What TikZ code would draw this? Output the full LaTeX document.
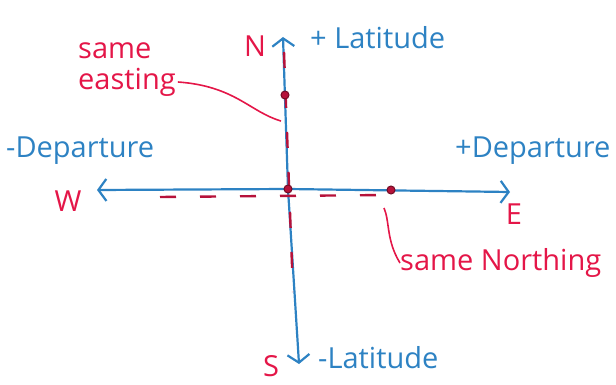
\documentclass[tikz,border=0pt]{standalone}
\usepackage{fontspec}
\setmainfont{Open Sans}
\usetikzlibrary{arrows.meta,positioning}
\definecolor{penblue}{RGB}{45,130,195}
\definecolor{penred}{RGB}{228,22,72}

\begin{document}
\begin{tikzpicture}[x=1pt,y=-1pt,
  axis/.style={draw=penblue,line width=2.2pt,
    -{Straight Barb[length=8pt,width=22pt,line width=2.2pt]}},
  bluetxt/.style={text=penblue,font=\fontsize{29}{30}\selectfont,inner sep=0pt},
  redtxt/.style={text=penred,font=\fontsize{29}{31}\selectfont,inner sep=0pt,align=left},
  trace/.style={draw=penred!80!black,line width=2.4pt,dash pattern=on 16pt off 24pt},
  leader/.style={draw=penred,line width=1.6pt},
  dot/.style={circle,fill=penred!80!black,draw=penred!50!black,line width=1pt,
    inner sep=0pt,minimum size=8pt}
]
\useasboundingbox (0,0) rectangle (616,385);

% axis ends
\coordinate (north) at (283,37);
\coordinate (south) at (299,364);
\coordinate (west) at (97,190);
\coordinate (east) at (510,192);
\coordinate (centre) at (288,189);

\draw[axis] (centre) -- (north);
\draw[axis] (centre) -- (south);
\draw[axis] (centre) -- (west);
\draw[axis] (centre) -- (east);

% points with same easting / northing
\draw[trace] (284,52) -- (293,292);
\draw[trace] (160,197) -- (388,195);

\node[dot] (origin) at (centre) {};
\node[dot] (ptn) at (285,95) {};
\node[dot] (pte) at (391,190) {};

% labels
\node[redtxt] (nlab) at (255,46) {N};
\node[redtxt] (slab) at (271,366) {S};
\node[redtxt] (wlab) at (68,201) {W};
\node[redtxt] (elab) at (514,214) {E};
\node[bluetxt,anchor=west] (latp) at (310,38) {+ Latitude};
\node[bluetxt,anchor=west] (latm) at (318,358) {-Latitude};
\node[bluetxt,anchor=west] (depm) at (6,151) {-Departure};
\node[bluetxt,anchor=west] (depp) at (455,151) {+Departure};

\node[redtxt,anchor=west] (easting) at (78,70) {same\\easting};
\node[redtxt,anchor=west] (northing) at (400,263) {same Northing};

\coordinate (eastend) at (281,121);
\coordinate (northend) at (384,208);
\draw[leader] ([yshift=-12pt,xshift=2pt]easting.east) .. controls (235,86) and (250,112) .. (eastend);
\draw[leader] (northend) .. controls (390,222) and (386,240) .. (northing.west);
\end{tikzpicture}
\end{document}
